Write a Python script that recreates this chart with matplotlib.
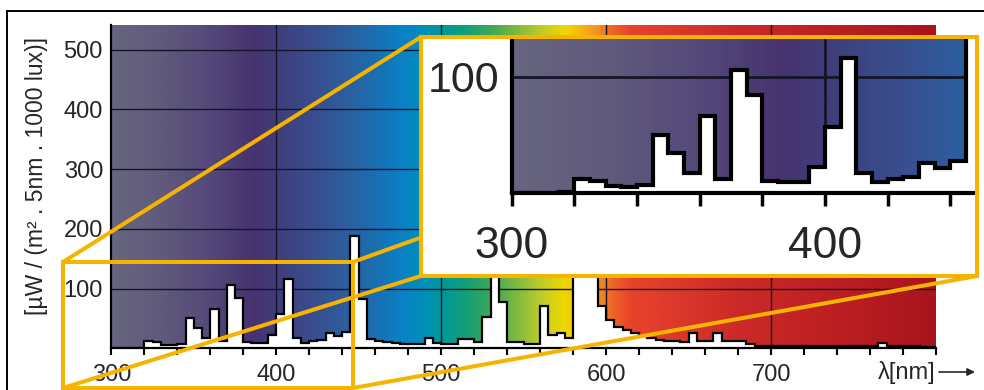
import numpy as np
import matplotlib
matplotlib.use("Agg")
import matplotlib.pyplot as plt
from matplotlib.colors import LinearSegmentedColormap
from matplotlib.patches import Rectangle
from matplotlib.lines import Line2D

plt.rcParams['font.family'] = ['Liberation Sans', 'DejaVu Sans']

# ---- data: spectral power per 5 nm band, starting at 300 nm ----
band_width_nm = 5
first_band_nm = 300
spectral_power = [
    0, 0, 0, 1, 12, 10, 6, 5, 7, 50,               # 300-345
    34, 17, 66, 12, 106, 84, 10, 9.5, 9.5, 22,     # 350-395
    57, 116, 17, 9.5, 11.5, 13.5, 26, 21, 27, 188, # 400-445
    82, 15, 12, 10, 9, 7, 7, 7, 17, 9,             # 450-495
    8, 8, 15, 15, 10, 52, 320, 78, 11, 11,         # 500-545
    7, 7, 71, 22, 26, 17, 240, 430, 190, 71,       # 550-595
    47, 36, 31, 25, 21, 17, 14, 13, 12, 11,        # 600-645
    25, 12, 12, 26, 13, 13, 12, 8, 4, 4,           # 650-695
    4, 4, 4, 4, 4, 4, 4, 4, 4, 4,                  # 700-745
    4, 4, 4, 9.5, 4, 4, 4, 4, 2, 2,                # 750-795
]

main_xticks = [300, 320, 340, 360, 380, 400, 420, 440, 460, 480, 500, 520, 540,
               560, 580, 600, 620, 640, 660, 680, 700, 720, 740, 760, 780, 800]
main_xlabels = ['300', '', '', '', '', '400', '', '', '', '', '500', '', '', '',
                '', '600', '', '', '', '', '700', '', '', '', '', '']
main_yticks = [100, 200, 300, 400, 500]
main_ylabels = ['100', '200', '300', '400', '500']

zoom_xticks = [300, 320, 340, 360, 380, 400, 420, 440]
zoom_xlabels = ['300', '', '', '', '', '400', '', '']
zoom_yticks = [100]
zoom_ylabels = ['100']

# visible-spectrum backdrop colours
spectrum_nm = [300, 330, 360, 385, 400, 420, 440, 460, 475, 490, 500, 515, 530,
               545, 560, 575, 585, 595, 605, 615, 640, 680, 740, 800]
spectrum_rgb = ['#67657f', '#605a7c', '#54487a', '#46336f', '#403d7a', '#3a4c8c',
                '#2e5c9c', '#1a6fb2', '#0a80c4', '#008fb8', '#00979a', '#139f78',
                '#3aa858', '#7db842', '#bccb2a', '#f0d800', '#f4b810', '#f39020',
                '#ee6228', '#e8432a', '#dd3a2a', '#cc2a28', '#bc1f22', '#a8141c']

# ---- figure ----
W, H = 984, 390
fig = plt.figure(figsize=(W / 100, H / 100), dpi=100)
fig.patch.set_facecolor('white')


def fx(x):
    return x / W


def fy(y):
    return (H - y) / H


power = np.asarray(spectral_power, dtype=float)
edges = first_band_nm + band_width_nm * np.arange(len(power) + 1)

pos = [(v - spectrum_nm[0]) / (spectrum_nm[-1] - spectrum_nm[0]) for v in spectrum_nm]
spec_cmap = LinearSegmentedColormap.from_list('visible', list(zip(pos, spectrum_rgb)))
ramp = np.linspace(spectrum_nm[0], spectrum_nm[-1], 1200)[None, :]

TEXT = '#262626'
GRID = '#15152a'
YELLOW = '#f6b400'


def draw_panel(ax, xlim, ylim, vgrid, hgrid, grid_lw, line_lw, spine_lw):
    ax.imshow(ramp, extent=(spectrum_nm[0], spectrum_nm[-1], 0, 2000), cmap=spec_cmap,
              vmin=spectrum_nm[0], vmax=spectrum_nm[-1], aspect='auto',
              origin='lower', zorder=0, interpolation='bilinear')
    for g in hgrid:
        ax.axhline(g, color=GRID, lw=grid_lw, zorder=1)
    for g in vgrid:
        ax.axvline(g, color=GRID, lw=grid_lw, zorder=1)
    ax.stairs(power, edges, baseline=0, fill=True, color='white', zorder=2)
    ax.stairs(power, edges, baseline=None, color='black', lw=line_lw, zorder=3)
    ax.set_xlim(*xlim)
    ax.set_ylim(*ylim)
    for s in ('top', 'right'):
        ax.spines[s].set_visible(False)
    for s in ('left', 'bottom'):
        ax.spines[s].set_linewidth(spine_lw)
        ax.spines[s].set_color('black')
        ax.spines[s].set_zorder(4)


# main spectrum panel
ax = fig.add_axes([fx(111.3), fy(348.3), (936 - 111.3) / W, (348.3 - 25) / H])
ax.set_zorder(1)
draw_panel(ax, (300, 800), (0, 541), [400, 500, 600, 700], main_yticks,
           grid_lw=1.0, line_lw=1.6, spine_lw=1.6)
ax.set_xticks(main_xticks)
ax.set_xticklabels(main_xlabels)
ax.set_yticks(main_yticks)
ax.set_yticklabels(main_ylabels)
ax.tick_params(axis='x', direction='out', length=5, width=1.5, pad=6,
               labelsize=17, labelcolor=TEXT)
ax.tick_params(axis='y', length=0, pad=6, labelsize=17, labelcolor=TEXT)

fig.text(fx(37), fy(176), '[µW / (m² . 5nm . 1000 lux)]', rotation=90,
         ha='center', va='center', fontsize=16.5, color=TEXT)
fig.text(fx(935), fy(372), 'λ[nm]', ha='right', va='center', fontsize=17, color=TEXT)
ax.annotate('', xy=(975, H - 372), xytext=(939, H - 372), xycoords='figure pixels',
            textcoords='figure pixels',
            arrowprops=dict(arrowstyle='-|>', lw=1.2, color=TEXT,
                            mutation_scale=11, shrinkA=0, shrinkB=0))

# outer frame
for (x0, y0, x1, y1) in [(7, 11, 984, 11), (7, 11, 7, 390)]:
    fig.add_artist(Line2D([fx(x0), fx(x1)], [fy(y0), fy(y1)], color='black',
                          lw=1.4, zorder=3))

# zoom window on the main panel and its connectors
src = (63, 262, 353, 388)      # left, top, right, bottom (pixels)
dst = (421, 37, 977, 276)
yl_lw = 2.9
fig.add_artist(Rectangle((fx(src[0]), fy(src[3])), (src[2] - src[0]) / W,
                         (src[3] - src[1]) / H, fill=False, ec=YELLOW, lw=yl_lw,
                         zorder=3))
for (a, b) in [((src[0], src[1]), (dst[0], dst[1])),
               ((src[0], src[3]), (dst[0], dst[3])),
               ((src[2], src[1]), (dst[2], dst[1])),
               ((src[2], src[3]), (dst[2], dst[3]))]:
    fig.add_artist(Line2D([fx(a[0]), fx(b[0])], [fy(a[1]), fy(b[1])], color=YELLOW,
                          lw=yl_lw, zorder=3, solid_capstyle='round'))

# enlarged view
fig.add_artist(Rectangle((fx(dst[0]), fy(dst[3])), (dst[2] - dst[0]) / W,
                         (dst[3] - dst[1]) / H, fc='white', ec='none', zorder=4))
axz = fig.add_axes([fx(511.7), fy(192.7), (976.7 - 511.7) / W, (192.7 - 37) / H])
axz.set_zorder(5)
axz.patch.set_alpha(0)
draw_panel(axz, (300, 448.4), (0, 134.2), [400], zoom_yticks,
           grid_lw=2.0, line_lw=3.0, spine_lw=3.0)
axz.set_xticks(zoom_xticks)
axz.set_xticklabels(zoom_xlabels)
axz.set_yticks(zoom_yticks)
axz.set_yticklabels(zoom_ylabels)
axz.tick_params(axis='x', direction='out', length=9, width=2.5, pad=15,
                labelsize=32, labelcolor=TEXT)
axz.tick_params(axis='y', length=0, pad=9, labelsize=31, labelcolor=TEXT)
fig.add_artist(Rectangle((fx(dst[0]), fy(dst[3])), (dst[2] - dst[0]) / W,
                         (dst[3] - dst[1]) / H, fill=False, ec=YELLOW, lw=yl_lw,
                         zorder=6))

fig.savefig('out.png', dpi=100, facecolor='white')
